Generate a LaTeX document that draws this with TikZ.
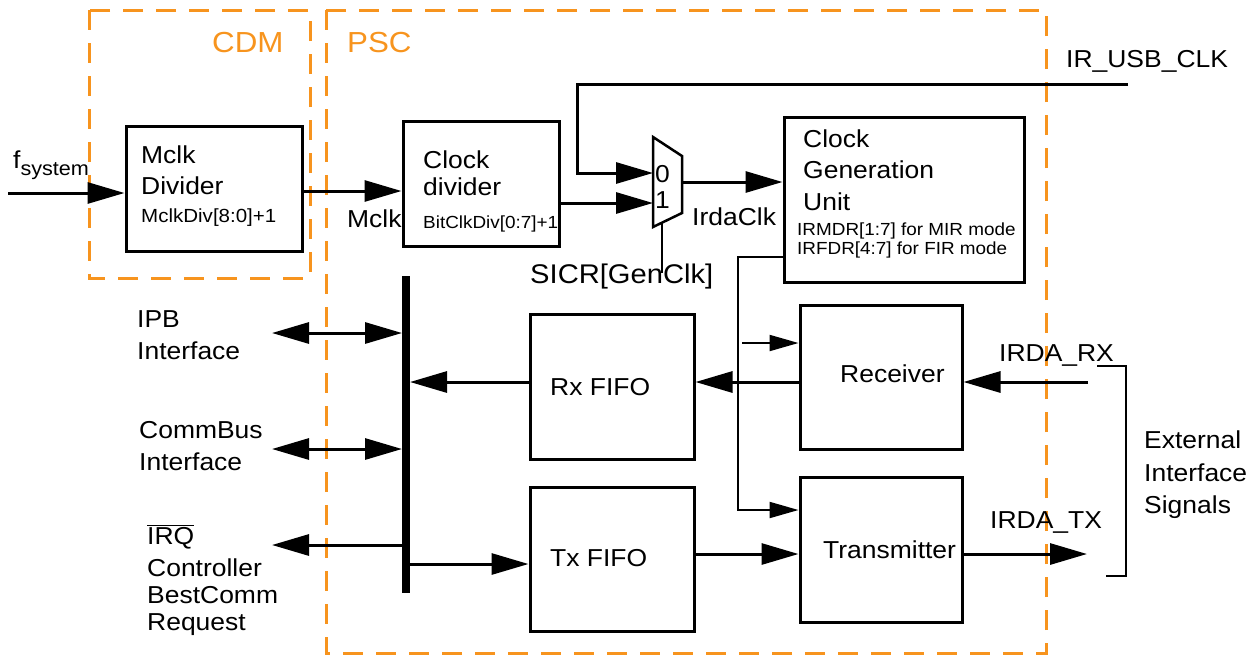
\documentclass[tikz,border=0pt]{standalone}
\usepackage{fontspec}
\setmainfont{Liberation Sans}[FakeStretch=1.08]
\usetikzlibrary{arrows.meta}
\definecolor{psco}{RGB}{247,148,30}
\begin{document}
\begin{tikzpicture}[x=1pt,y=-1pt,
  box/.style={draw,line width=3pt,inner sep=0pt,rectangle},
  region/.style={draw=psco,line width=3pt,dash pattern=on 20pt off 13pt},
  txt/.style={inner sep=0pt,anchor=base west,font=\fontsize{24.5}{28}\selectfont},
  sm/.style={inner sep=0pt,anchor=base west,font=\fontsize{17.5}{20}\selectfont},
  reg/.style={inner sep=0pt,anchor=base west,text=psco,font=\fontsize{29}{32}\selectfont},
  wire/.style={line width=3pt},
  fine/.style={line width=2pt},
  big/.style={-{Triangle[length=37pt,width=21pt]}},
  both/.style={{Triangle[length=37pt,width=21pt]}-{Triangle[length=37pt,width=21pt]}},
  small/.style={-{Triangle[length=29pt,width=16pt]}}
]
\useasboundingbox (0,0) rectangle (1249,657);

% regions
\draw[region] (89,10) rectangle (310,278);
\draw[region] (326,10) rectangle (1046,653);
\node[reg] (cdmlbl) at (212,52) {CDM};
\node[reg] (psclbl) at (347,52) {PSC};

% boxes
\node[box,minimum width=176pt,minimum height=125pt] (mdiv) at (214,188.5) {};
\node[box,minimum width=156pt,minimum height=125pt] (cdiv) at (481,183.5) {};
\node[box,minimum width=240pt,minimum height=165pt] (cgu) at (904,199.5) {};
\node[box,minimum width=164pt,minimum height=145pt] (rxf) at (612,386.5) {};
\node[box,minimum width=164pt,minimum height=144pt] (txf) at (612,559) {};
\node[box,minimum width=162pt,minimum height=144pt] (rec) at (881,377) {};
\node[box,minimum width=162pt,minimum height=145pt] (trm) at (881,549.5) {};

% box texts
\node[txt] (t1) at (141,163) {Mclk};
\node[txt] (t2) at (141,194) {Divider};
\node[sm,font=\fontsize{19}{21}\selectfont] (t3) at (141,222) {MclkDiv[8:0]+1};
\node[txt] (t4) at (423,168) {Clock};
\node[txt] (t5) at (423,195) {divider};
\node[sm] (t6) at (423,228) {BitClkDiv[0:7]+1};
\node[txt] (t7) at (803,147) {Clock};
\node[txt] (t8) at (803,178) {Generation};
\node[txt] (t9) at (803,210) {Unit};
\node[sm] (t10) at (797,235) {IRMDR[1:7] for MIR mode};
\node[sm] (t11) at (797,254) {IRFDR[4:7] for FIR mode};
\node[txt] (t12) at (550,395) {Rx FIFO};
\node[txt] (t13) at (550,566) {Tx FIFO};
\node[txt] (t14) at (840,382) {Receiver};
\node[txt] (t15) at (823,558) {Transmitter};

% mux
\coordinate (mtl) at (653,137);
\coordinate (mtr) at (682,156);
\coordinate (mbr) at (682,213);
\coordinate (mbl) at (653,227);
\coordinate (in0) at (653,173);
\coordinate (in1) at (653,203);
\coordinate (mout) at (682,182);
\coordinate (msel) at (662,222.5);
\draw[line width=2.5pt,line join=miter] (mtl) -- (mtr) -- (mbr) -- (mbl) -- cycle;
\node[txt] (z0) at (655,182) {0};
\node[txt] (z1) at (655,208) {1};

% bus
\coordinate (bt) at (406,276);
\coordinate (bb) at (406,593);
\draw[line width=8pt] (bt) -- (bb);

% coordinates for free ends
\coordinate (fin) at (8,193);
\coordinate (mck) at (0,191);
\coordinate (usb) at (1128,84);
\coordinate (ucorner) at (577,84);
\coordinate (selend) at (662,273);
\coordinate (fb1) at (738,257);
\coordinate (fb2) at (738,510);
\coordinate (fbr) at (742,343);
\coordinate (rxin) at (1088,382);
\coordinate (txout) at (1087,554);
\coordinate (ipbl) at (272,333);
\coordinate (ipbr) at (402,333);
\coordinate (cbl) at (272,449);
\coordinate (cbr) at (402,449);
\coordinate (irql) at (272,545);
\coordinate (irqr) at (402,545);
\coordinate (rxbus) at (410,382);
\coordinate (txbus) at (410,564);

% connectors
\draw[wire,big] (fin) -- (fin -| mdiv.west);
\draw[wire,big] (mdiv.east |- mck) -- (cdiv.west |- mck);
\draw[wire,big] (cdiv.east |- in1) -- (in1);
\draw[wire,big,line join=miter] (usb) -- (ucorner) -- (ucorner |- in0) -- (in0);
\draw[wire,big] (mout) -- (cgu.west |- mout);
\draw[fine] (msel) -- (selend);
\draw[fine,small] (cgu.west |- fb1) -- (fb1) -- (fb2) -- (trm.west |- fb2);
\draw[fine,small] (fbr) -- (rec.west |- fbr);
\draw[wire,big] (rec.west |- rxin) -- (rxf.east |- rxin);
\draw[wire,big] (rxin) -- (rec.east |- rxin);
\draw[wire,big] (trm.east |- txout) -- (txout);
\draw[wire,big] (txf.east |- txout) -- (trm.west |- txout);
\draw[wire,big] (rxf.west |- rxbus) -- (rxbus);
\draw[wire,big] (txbus) -- (txf.west |- txbus);
\draw[wire,both] (ipbl) -- (ipbr);
\draw[wire,both] (cbl) -- (cbr);
\draw[wire,big] (irqr) -- (irql);
\draw[fine] (1097,366) -- (1126,366) -- (1126,576) -- (1106,576);

% labels
\node[txt] (fsys) at (13,168) {f\raisebox{-7pt}{\fontsize{20}{22}\selectfont system}};
\node[txt] (mclk) at (347,227) {Mclk};
\node[txt] (irdaclk) at (692,225) {IrdaClk};
\node[txt,font=\fontsize{27}{30}\selectfont] (sicr) at (530,283) {SICR[GenClk]};
\node[txt] (usblbl) at (1066,67) {IR\_USB\_CLK};
\node[txt] (ipb1) at (137,327) {IPB};
\node[txt] (ipb2) at (137,359) {Interface};
\node[txt] (cb1) at (139,438) {CommBus};
\node[txt] (cb2) at (139,470) {Interface};
\node[txt] (irq1) at (147,544) {$\overline{\mbox{IRQ}}$};
\node[txt] (irq2) at (147,576) {Controller};
\node[txt] (irq3) at (147,603) {BestComm};
\node[txt] (irq4) at (147,630) {Request};
\node[txt] (rxlbl) at (999,361) {IRDA\_RX};
\node[txt] (txlbl) at (990,528) {IRDA\_TX};
\node[txt] (ext1) at (1144,448) {External};
\node[txt] (ext2) at (1144,481) {Interface};
\node[txt] (ext3) at (1144,513) {Signals};
\end{tikzpicture}
\end{document}
